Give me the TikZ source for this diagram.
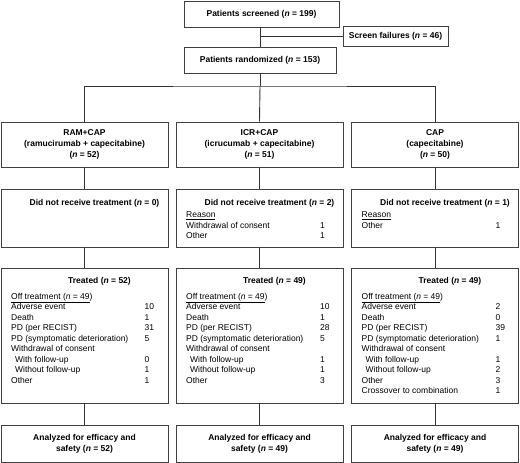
\documentclass[tikz,border=0pt]{standalone}
\usepackage{fontspec}
\setmainfont{Liberation Sans}
\usetikzlibrary{positioning}

\begin{document}
\begin{tikzpicture}[x=1pt,y=-1pt,
    box/.style={draw=black!75,line width=0.8pt,inner sep=0pt,align=center,
        font=\bfseries\fontsize{8.5}{10.8}\selectfont},
    conn/.style={draw=black!80,line width=0.9pt},
    rowtxt/.style={anchor=west,inner sep=0pt,text height=6pt,text depth=1.8pt,
        font=\fontsize{8.5}{10.5}\selectfont},
    headtxt/.style={inner sep=0pt,text height=6pt,text depth=1.8pt,
        font=\bfseries\fontsize{8.5}{10.5}\selectfont}]
    \useasboundingbox (0,0) rectangle (520,463);

    % Screening and randomization
    \node[box,minimum width=155pt,minimum height=26pt] (scr) at (261.5,14) {Patients screened (\textit{n} = 199)};
    \node[box,minimum width=105pt,minimum height=20pt] (fail) at (395.5,36) {Screen failures (\textit{n} = 46)};
    \node[box,minimum width=152pt,minimum height=26pt] (rand) at (260,60) {Patients randomized (\textit{n} = 153)};
    \coordinate (split) at (260,86);

    \draw[conn] (scr.south -| rand.north) -- (rand.north);
    \draw[conn] (fail.west) -- (fail.west -| rand.north);
    \draw[conn] (rand.south) -- (split);

    % Three arms
    \foreach \i/\cx/\arm/\drug/\nr/\nd/\nt in {1/84.5/RAM+CAP/ramucirumab + capecitabine/52/0/52,
            2/259.5/ICR+CAP/icrucumab + capecitabine/51/2/49,
            3/435/CAP/capecitabine/50/1/49} {
        \node[box,minimum width=167pt,minimum height=45pt] (arm\i) at (\cx,144.5) {\arm\\(\drug)\\(\textit{n} = \nr)};
        \node[box,minimum width=167pt,minimum height=58pt] (dnr\i) at (\cx,218) {};
        \node[box,minimum width=167pt,minimum height=135pt] (trt\i) at (\cx,335.5) {};
        \node[box,minimum width=167pt,minimum height=37pt] (ana\i) at (\cx,443.5) {Analyzed for efficacy and\\safety (\textit{n} = \nt)};
        \node[headtxt] (dnr\i-h) at ({\cx+10},203) {Did not receive treatment (\textit{n} = \nd)};
        \node[headtxt] (trt\i-h) at ({\cx+15},281) {Treated (\textit{n} = \nt)};
        \node[rowtxt] (trt\i-l1) at ({\cx-73.5},297) {\underline{Off treatment (\textit{n} = 49})};
        \draw[conn] (arm\i) -- (dnr\i);
        \draw[conn] (dnr\i) -- (trt\i);
        \draw[conn] (trt\i) -- (ana\i);
    }
    \draw[conn] (arm1.north) |- (split) -| (arm3.north);
    \draw[conn] (split) -- (arm2.north);

    % Reasons for no treatment
    \foreach \lab/\num [count=\k] in {\underline{Reason}/, Withdrawal of consent/1, Other/1} {
        \node[rowtxt] (dnr2-l\k) at (186,{205+10.6*\k}) {\lab};
        \node[rowtxt] (dnr2-n\k) at (320,{205+10.6*\k}) {\num};
    }
    \foreach \lab/\num [count=\k] in {\underline{Reason}/, Other/1} {
        \node[rowtxt] (dnr3-l\k) at (361.5,{205+10.6*\k}) {\lab};
        \node[rowtxt] (dnr3-n\k) at (495.5,{205+10.6*\k}) {\num};
    }

    % Off-treatment reasons
    \foreach \lab/\num [count=\k from 2] in {Adverse event/10, Death/1, PD (per RECIST)/31,
            PD (symptomatic deterioration)/5, Withdrawal of consent/, \hspace{4pt}With follow-up/0,
            \hspace{4pt}Without follow-up/1, Other/1} {
        \node[rowtxt] (trt1-l\k) at (11,{286.5+10.5*\k}) {\lab};
        \node[rowtxt] (trt1-n\k) at (144.5,{286.5+10.5*\k}) {\num};
    }
    \foreach \lab/\num [count=\k from 2] in {Adverse event/10, Death/1, PD (per RECIST)/28,
            PD (symptomatic deterioration)/5, Withdrawal of consent/, \hspace{4pt}With follow-up/1,
            \hspace{4pt}Without follow-up/1, Other/3} {
        \node[rowtxt] (trt2-l\k) at (186,{286.5+10.5*\k}) {\lab};
        \node[rowtxt] (trt2-n\k) at (320,{286.5+10.5*\k}) {\num};
    }
    \foreach \lab/\num [count=\k from 2] in {Adverse event/2, Death/0, PD (per RECIST)/39,
            PD (symptomatic deterioration)/1, Withdrawal of consent/, \hspace{4pt}With follow-up/1,
            \hspace{4pt}Without follow-up/2, Other/3, Crossover to combination/1} {
        \node[rowtxt] (trt3-l\k) at (361.5,{286.5+10.5*\k}) {\lab};
        \node[rowtxt] (trt3-n\k) at (495.5,{286.5+10.5*\k}) {\num};
    }
\end{tikzpicture}
\end{document}
